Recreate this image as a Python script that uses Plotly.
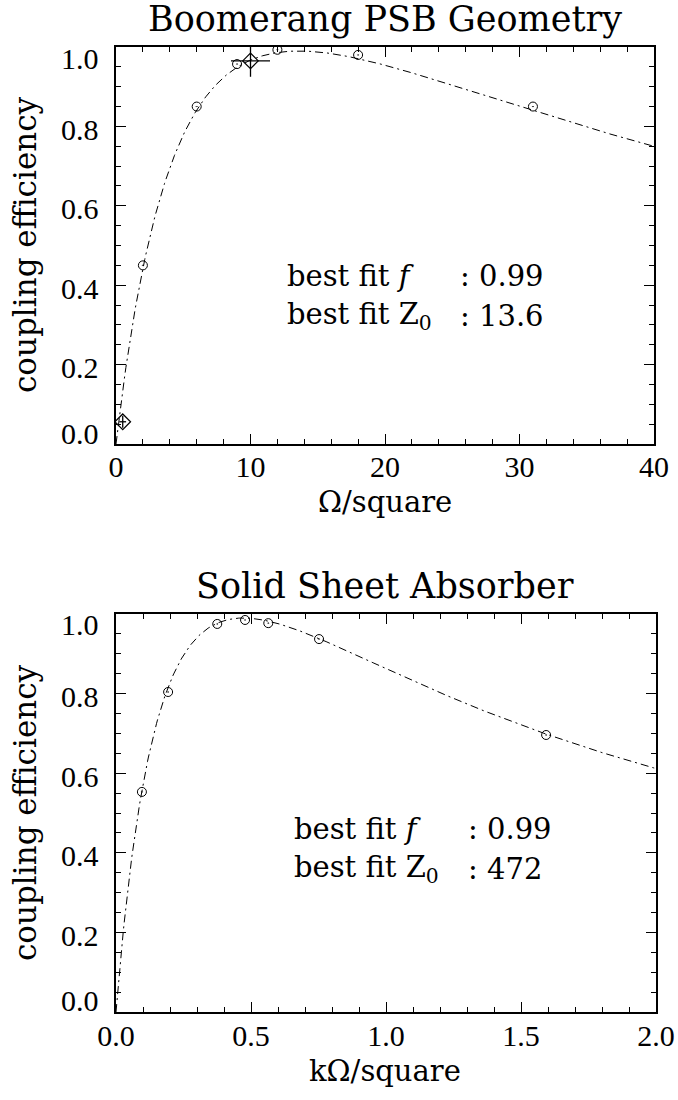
import numpy as np
import plotly.graph_objects as go

# ---- Boomerang PSB geometry (resistance in ohm/square) ----
psb_r = [2.0, 6.0, 9.0, 12.0, 18.0, 31.0]
psb_eff = [0.45, 0.85, 0.957, 0.993, 0.98, 0.85]
# points measured with error bars
psb_meas_r = [0.5, 10.0]
psb_meas_eff = [0.056, 0.965]
psb_meas_rerr = [0.25, 1.45]
psb_meas_efferr = [0.015, 0.04]
psb_fit_f = 0.99
psb_fit_z0 = 13.6

# ---- Solid sheet absorber (resistance in kohm/square) ----
sheet_r = [0.096, 0.193, 0.375, 0.478, 0.564, 0.752, 1.593]
sheet_eff = [0.553, 0.804, 0.975, 0.985, 0.977, 0.937, 0.696]
sheet_fit_f = 0.99
sheet_fit_z0_ohm = 472

# ---- axis ticks ----
y_ticks = [0.0, 0.2, 0.4, 0.6, 0.8, 1.0]
y_tick_text = ["0.0", "0.2", "0.4", "0.6", "0.8", "1.0"]
psb_x_ticks = [0, 10, 20, 30, 40]
psb_x_tick_text = ["0", "10", "20", "30", "40"]
sheet_x_ticks = [0.0, 0.5, 1.0, 1.5, 2.0]
sheet_x_tick_text = ["0.0", "0.5", "1.0", "1.5", "2.0"]

NUM_FONT = "Liberation Serif"   # tick numbers
TXT_FONT = "DejaVu Serif"       # titles and labels
BLACK = "#000000"


def coupling(r, f, z0):
    """Matched-load coupling efficiency of a resistive absorber."""
    r = np.asarray(r, dtype=float)
    return f * 4.0 * r * z0 / (r + z0) ** 2


psb_curve_r = np.linspace(0.0, 40.0, 600)
psb_curve = coupling(psb_curve_r, psb_fit_f, psb_fit_z0)
sheet_curve_r = np.linspace(0.0, 2.0, 600)
sheet_curve = coupling(sheet_curve_r, sheet_fit_f, sheet_fit_z0_ohm / 1000.0)

fig = go.Figure()

fit_line = dict(color=BLACK, width=1, dash="8px,4px,2px,4px")
circle = dict(symbol="circle-open-dot", size=9, color=BLACK, line=dict(width=1, color=BLACK))

fig.add_trace(go.Scatter(x=psb_curve_r, y=psb_curve, mode="lines", line=fit_line,
                         xaxis="x", yaxis="y", hoverinfo="skip"))
fig.add_trace(go.Scatter(x=psb_r, y=psb_eff, mode="markers", marker=circle,
                         xaxis="x", yaxis="y"))
fig.add_trace(go.Scatter(
    x=psb_meas_r, y=psb_meas_eff, mode="markers",
    marker=dict(symbol="diamond-open", size=12, color=BLACK, line=dict(width=1.2, color=BLACK)),
    error_x=dict(type="data", array=psb_meas_rerr, color=BLACK, thickness=1.3, width=0),
    error_y=dict(type="data", array=psb_meas_efferr, color=BLACK, thickness=1.3, width=0),
    xaxis="x", yaxis="y"))

fig.add_trace(go.Scatter(x=sheet_curve_r, y=sheet_curve, mode="lines", line=fit_line,
                         xaxis="x2", yaxis="y2", hoverinfo="skip"))
fig.add_trace(go.Scatter(x=sheet_r, y=sheet_eff, mode="markers", marker=circle,
                         xaxis="x2", yaxis="y2"))

W, H = 678, 1100
ML, MR = 116, 22
PW = W - ML - MR


def px(xp):
    return (xp - ML) / PW


def py(yp):
    return (H - yp) / H


tick_font = dict(family=NUM_FONT, size=30, color=BLACK)
common_axis = dict(
    showline=True, linecolor=BLACK, linewidth=1.5, mirror="ticks",
    ticks="inside", ticklen=10, tickwidth=1, tickcolor=BLACK,
    showgrid=False, zeroline=False, tickfont=tick_font,
    ticklabeloverflow="allow",
)

fig.update_layout(
    width=W, height=H,
    margin=dict(l=ML, r=MR, t=0, b=0),
    paper_bgcolor="white", plot_bgcolor="white",
    showlegend=False,
    font=dict(family=TXT_FONT, color=BLACK),
    xaxis=dict(domain=[0, px(654)], range=[0, 40], anchor="y",
               tickmode="array", tickvals=psb_x_ticks, ticktext=psb_x_tick_text,
               minor=dict(dtick=2, ticks="inside", ticklen=5, tickwidth=1, tickcolor=BLACK),
               ticklabelstandoff=-5, **common_axis),
    yaxis=dict(domain=[py(444), py(47)], range=[0, 1.0], anchor="x",
               tickmode="array", tickvals=y_ticks, showticklabels=False,
               minor=dict(dtick=0.05, ticks="inside", ticklen=5, tickwidth=1, tickcolor=BLACK),
               **common_axis),
    xaxis2=dict(domain=[0, px(656)], range=[0, 2.0], anchor="y2",
                tickmode="array", tickvals=sheet_x_ticks, ticktext=sheet_x_tick_text,
                minor=dict(dtick=0.1, ticks="inside", ticklen=5, tickwidth=1, tickcolor=BLACK),
                ticklabelstandoff=-4, **common_axis),
    yaxis2=dict(domain=[py(1012), py(614)], range=[0, 1.0], anchor="x2",
                tickmode="array", tickvals=y_ticks, showticklabels=False,
                minor=dict(dtick=0.05, ticks="inside", ticklen=5, tickwidth=1, tickcolor=BLACK),
                **common_axis),
)

ann = []
num_font = dict(family=NUM_FONT, size=30, color=BLACK)
text_font = dict(family=TXT_FONT, size=29, color=BLACK)
ylab_font = dict(family=TXT_FONT, size=31, color=BLACK)
title_font = dict(family=TXT_FONT, size=35, color=BLACK)

# y tick labels (end labels kept inside the frame height)
for yref in ("y", "y2"):
    for v, t in zip(y_ticks, y_tick_text):
        shift = -3
        if v == y_ticks[-1]:
            shift = -11
        elif v == y_ticks[0]:
            shift = 11
        ann.append(dict(xref="paper", yref=yref, x=px(101), y=v, text=t,
                        xanchor="right", yanchor="middle", yshift=shift,
                        showarrow=False, font=num_font))

# panel titles
ann.append(dict(xref="paper", yref="paper", x=px(385), y=py(19), text="Boomerang PSB Geometry",
                xanchor="center", yanchor="middle", showarrow=False, font=title_font))
ann.append(dict(xref="paper", yref="paper", x=px(385), y=py(586), text="Solid Sheet Absorber",
                xanchor="center", yanchor="middle", showarrow=False, font=title_font))

# axis titles
ann.append(dict(xref="paper", yref="paper", x=px(385), y=py(502), text="Ω/square",
                xanchor="center", yanchor="middle", showarrow=False, font=text_font))
ann.append(dict(xref="paper", yref="paper", x=px(385), y=py(1071), text="kΩ/square",
                xanchor="center", yanchor="middle", showarrow=False, font=text_font))
for yc in (245, 813):
    ann.append(dict(xref="paper", yref="paper", x=px(25), y=py(yc), text="coupling efficiency",
                    textangle=-90, xanchor="center", yanchor="middle", showarrow=False,
                    font=ylab_font))

# best-fit parameters
fit_rows = [
    (285, 458, 276, 316, psb_fit_f, f"{psb_fit_z0:.1f}"),
    (292, 466, 829, 869, sheet_fit_f, f"{sheet_fit_z0_ohm:d}"),
]
for xl, xc, y1, y2, fval, zval in fit_rows:
    ann.append(dict(xref="paper", yref="paper", x=px(xl), y=py(y1), text="best fit <i>f</i>",
                    xanchor="left", yanchor="middle", showarrow=False, font=text_font))
    ann.append(dict(xref="paper", yref="paper", x=px(xc), y=py(y1), text=f": {fval:.2f}",
                    xanchor="left", yanchor="middle", showarrow=False, font=text_font))
    ann.append(dict(xref="paper", yref="paper", x=px(xl), y=py(y2), text="best fit Z<sub>0</sub>",
                    xanchor="left", yanchor="middle", showarrow=False, font=text_font))
    ann.append(dict(xref="paper", yref="paper", x=px(xc), y=py(y2), text=f": {zval}",
                    xanchor="left", yanchor="middle", showarrow=False, font=text_font))

fig.update_layout(annotations=ann)

fig.write_html("out.html")
